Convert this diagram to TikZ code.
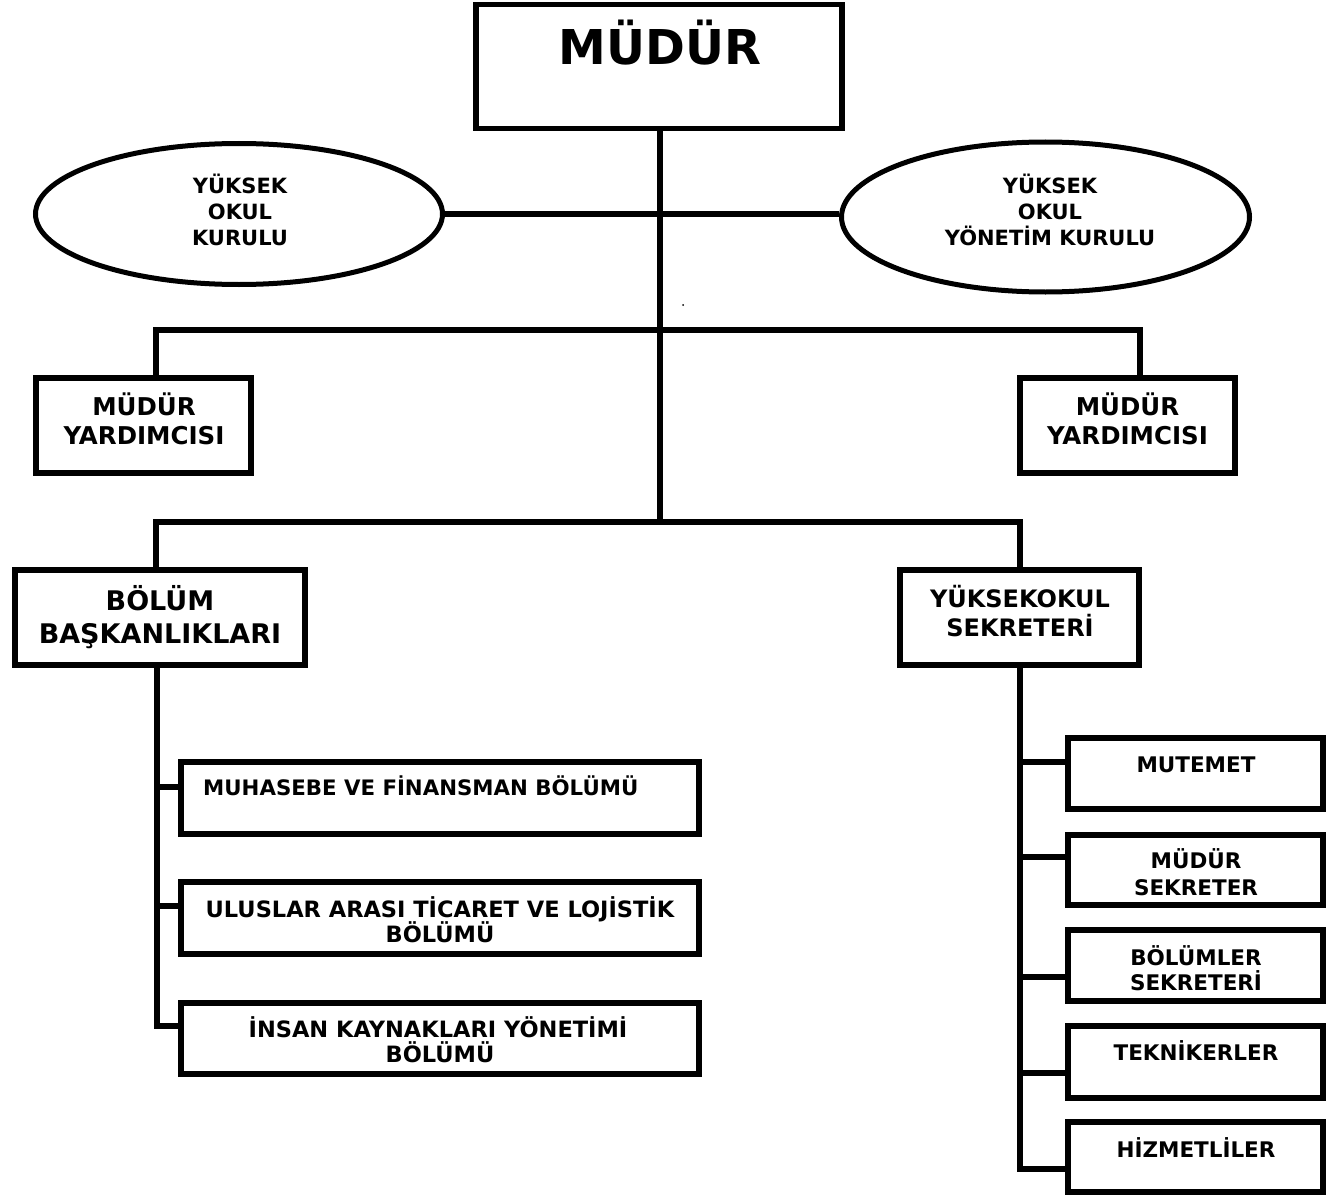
\documentclass[tikz,border=0pt]{standalone}
\usepackage{fontspec}
\setmainfont{DejaVu Sans}
\usetikzlibrary{shapes.geometric}
\tikzset{
  boxnode/.style={draw, line width=5.5pt, rectangle, inner sep=0pt},
  ellnode/.style={draw, line width=5pt, ellipse, inner sep=0pt},
  conn/.style={line width=5.2pt, line join=miter},
  txt/.style={inner sep=0pt, anchor=base},
  fA/.style={font=\bfseries\fontsize{21}{25}\selectfont},
  fR/.style={font=\bfseries\fontsize{21.5}{25}\selectfont},
  fL/.style={font=\bfseries\fontsize{22.5}{26}\selectfont},
  fM/.style={font=\bfseries\fontsize{21.3}{25}\selectfont},
  fB/.style={font=\bfseries\fontsize{24.5}{28}\selectfont},
  fC/.style={font=\bfseries\fontsize{27}{31}\selectfont},
  fD/.style={font=\bfseries\fontsize{24}{28}\selectfont},
  fT/.style={font=\bfseries\fontsize{48}{56}\selectfont},
}
\begin{document}
\begin{tikzpicture}[x=1pt,y=-1pt]
\useasboundingbox (0,0) rectangle (1341,1196);
\fill[white] (0,0) rectangle (1341,1196);

% ---- boxes ----
\node[boxnode, minimum width=366pt, minimum height=124pt] (mudur) at (659,66.5) {};
\node[ellnode, minimum width=407pt, minimum height=141pt] (ell1) at (239,214) {};
\node[ellnode, minimum width=408pt, minimum height=150pt] (ell2) at (1045.5,217) {};
\node[boxnode, minimum width=215pt, minimum height=95pt] (my1) at (143.5,425.5) {};
\node[boxnode, minimum width=215pt, minimum height=95pt] (my2) at (1127.5,425.5) {};
\node[boxnode, minimum width=290pt, minimum height=95pt] (bb) at (160,617.5) {};
\node[boxnode, minimum width=239pt, minimum height=95pt] (yos) at (1019.5,617.5) {};
\node[boxnode, minimum width=518pt, minimum height=72pt] (s1) at (440,798) {};
\node[boxnode, minimum width=518pt, minimum height=72pt] (s2) at (440,918) {};
\node[boxnode, minimum width=518pt, minimum height=71pt] (s3) at (440,1038.5) {};
\node[boxnode, minimum width=255pt, minimum height=71pt] (r1) at (1195.5,773.5) {};
\node[boxnode, minimum width=255pt, minimum height=70pt] (r2) at (1195.5,870) {};
\node[boxnode, minimum width=255pt, minimum height=71pt] (r3) at (1195.5,965.5) {};
\node[boxnode, minimum width=255pt, minimum height=72pt] (r4) at (1195.5,1062) {};
\node[boxnode, minimum width=255pt, minimum height=70pt] (r5) at (1195.5,1157) {};

% ---- texts ----
\node[txt, fT] (tm) at (660,65) {MÜDÜR};
\node[txt, fA] (te1a) at (240,193) {YÜKSEK};
\node[txt, fA] (te1b) at (240,219) {OKUL};
\node[txt, fA] (te1c) at (240,245) {KURULU};
\node[txt, fA] (te2a) at (1050,193) {YÜKSEK};
\node[txt, fA] (te2b) at (1050,219) {OKUL};
\node[txt, fA] (te2c) at (1050,245) {YÖNETİM KURULU};
\node[txt, fB] (tmy1a) at (144,415) {MÜDÜR};
\node[txt, fB] (tmy1b) at (144,444) {YARDIMCISI};
\node[txt, fB] (tmy2a) at (1127.5,415) {MÜDÜR};
\node[txt, fB] (tmy2b) at (1127.5,444) {YARDIMCISI};
\node[txt, fC] (tbba) at (160,610) {BÖLÜM};
\node[txt, fC] (tbbb) at (160,643) {BAŞKANLIKLARI};
\node[txt, fD] (tysa) at (1020,607) {YÜKSEKOKUL};
\node[txt, fD] (tysb) at (1020,636) {SEKRETERİ};
\node[txt, fM, anchor=base west] (ts1) at (203,795) {MUHASEBE VE FİNANSMAN BÖLÜMÜ};
\node[txt, fL] (ts2a) at (440,917) {ULUSLAR ARASI TİCARET VE LOJİSTİK};
\node[txt, fL] (ts2b) at (440,942) {BÖLÜMÜ};
\node[txt, fL] (ts3a) at (438,1037) {İNSAN KAYNAKLARI YÖNETİMİ};
\node[txt, fL] (ts3b) at (440,1062) {BÖLÜMÜ};
\node[txt, fR] (tr1) at (1196,772) {MUTEMET};
\node[txt, fR] (tr2a) at (1196,868) {MÜDÜR};
\node[txt, fR] (tr2b) at (1196,895) {SEKRETER};
\node[txt, fR] (tr3a) at (1196,965) {BÖLÜMLER};
\node[txt, fR] (tr3b) at (1196,990) {SEKRETERİ};
\node[txt, fR] (tr4) at (1196,1060) {TEKNİKERLER};
\node[txt, fR] (tr5) at (1196,1157) {HİZMETLİLER};

% ---- connectors ----
\coordinate (j2) at (660,522);
\coordinate (u1) at (156,330);
\coordinate (u2) at (1140,330);
\coordinate (l1) at (156,522);
\coordinate (l2) at (1020,522);
\draw[conn] (mudur.south -| j2) -- (j2);
\draw[conn] (ell1.east) -- (ell1.east -| ell2.west);
\draw[conn] (my1.north -| u1) -- (u1) -- (u2) -- (my2.north -| u2);
\draw[conn] (bb.north -| l1) -- (l1) -- (l2) -- (yos.north -| l2);

% left trunk
\coordinate (b1) at (157,787);
\coordinate (b2) at (157,906);
\coordinate (b3) at (157,1026);
\draw[conn] (bb.south -| b3) -- (b3) -- (b3 -| s3.west);
\draw[conn] (b1) -- (b1 -| s1.west);
\draw[conn] (b2) -- (b2 -| s2.west);

% right trunk
\coordinate (c1) at (1020,762);
\coordinate (c2) at (1020,857);
\coordinate (c3) at (1020,977);
\coordinate (c4) at (1020,1073);
\coordinate (c5) at (1020,1169);
\draw[conn] (yos.south -| c5) -- (c5) -- (c5 -| r5.west);
\draw[conn] (c1) -- (c1 -| r1.west);
\draw[conn] (c2) -- (c2 -| r2.west);
\draw[conn] (c3) -- (c3 -| r3.west);
\draw[conn] (c4) -- (c4 -| r4.west);

% stray dot
\fill (683,305) circle (1pt);
\end{tikzpicture}
\end{document}
